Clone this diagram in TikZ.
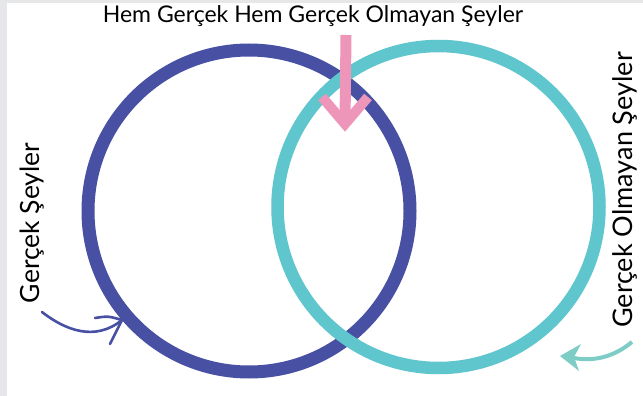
\documentclass[tikz,border=0pt]{standalone}
\usepackage{fontspec}
\setmainfont{Lato}
\usetikzlibrary{arrows.meta}
\definecolor{indigo}{RGB}{71,80,163}
\definecolor{tealc}{RGB}{94,198,204}
\definecolor{pinkc}{RGB}{238,150,185}
\definecolor{tealarrow}{RGB}{125,205,198}
\definecolor{band}{RGB}{230,231,232}
\begin{document}
\begin{tikzpicture}[x=1pt,y=-1pt,
  ring/.style={circle, minimum size=322pt, inner sep=0pt},
  lbl/.style={inner sep=0pt, text=black, anchor=base},
]
\useasboundingbox (0,0) rectangle (643,396);
\fill[white] (0,0) rectangle (643,396);
\fill[band] (0,0) rectangle (643,3);
\fill[band] (0,0) rectangle (7,396);

% circles
\node[ring, draw=indigo, line width=13pt] (blue) at (249,211) {};
\draw[indigo, line width=5pt] (blue.center) ++(140:163.5) arc[start angle=140, end angle=45, radius=163.5];
\node[ring, draw=tealc, line width=12.5pt] (teal) at (438.5,207) {};

% labels
\node[lbl, font=\fontsize{23}{23}\selectfont] (top) at (313,23) {Hem Gerçek Hem Gerçek Olmayan Şeyler};
\node[lbl, rotate=90, font=\fontsize{26.5}{26.5}\selectfont] (left) at (39,223) {Gerçek Şeyler};
\node[lbl, rotate=90, font=\fontsize{27}{27}\selectfont] (right) at (632,190) {Gerçek Olmayan Şeyler};

% pink arrow
\coordinate (pa) at (346,35);
\coordinate (pb) at (345,124);
\draw[pinkc, line width=11pt] (pa) -- (pb);
\draw[pinkc, line width=10pt, line join=miter] (322,97) -- (pb) -- (368,97);

% blue arrow
\coordinate (ba) at (42,312);
\coordinate (bb) at (122,320);
\draw[indigo, line width=2.6pt, line cap=round] (ba) .. controls (65,330) and (95,342) .. (bb);
\draw[indigo, line width=2.6pt, line cap=round, line join=round] (95,318) .. controls (108,316) .. (bb) -- (110,344);

% teal arrow
\coordinate (ta) at (632,342);
\coordinate (tb) at (560,356);
\draw[tealarrow, line width=4pt] (ta) .. controls (615,356) and (595,362) .. (574,358);
\fill[tealarrow] (tb) -- (581,344) -- (574,357) -- (579,371) -- cycle;
\end{tikzpicture}
\end{document}
